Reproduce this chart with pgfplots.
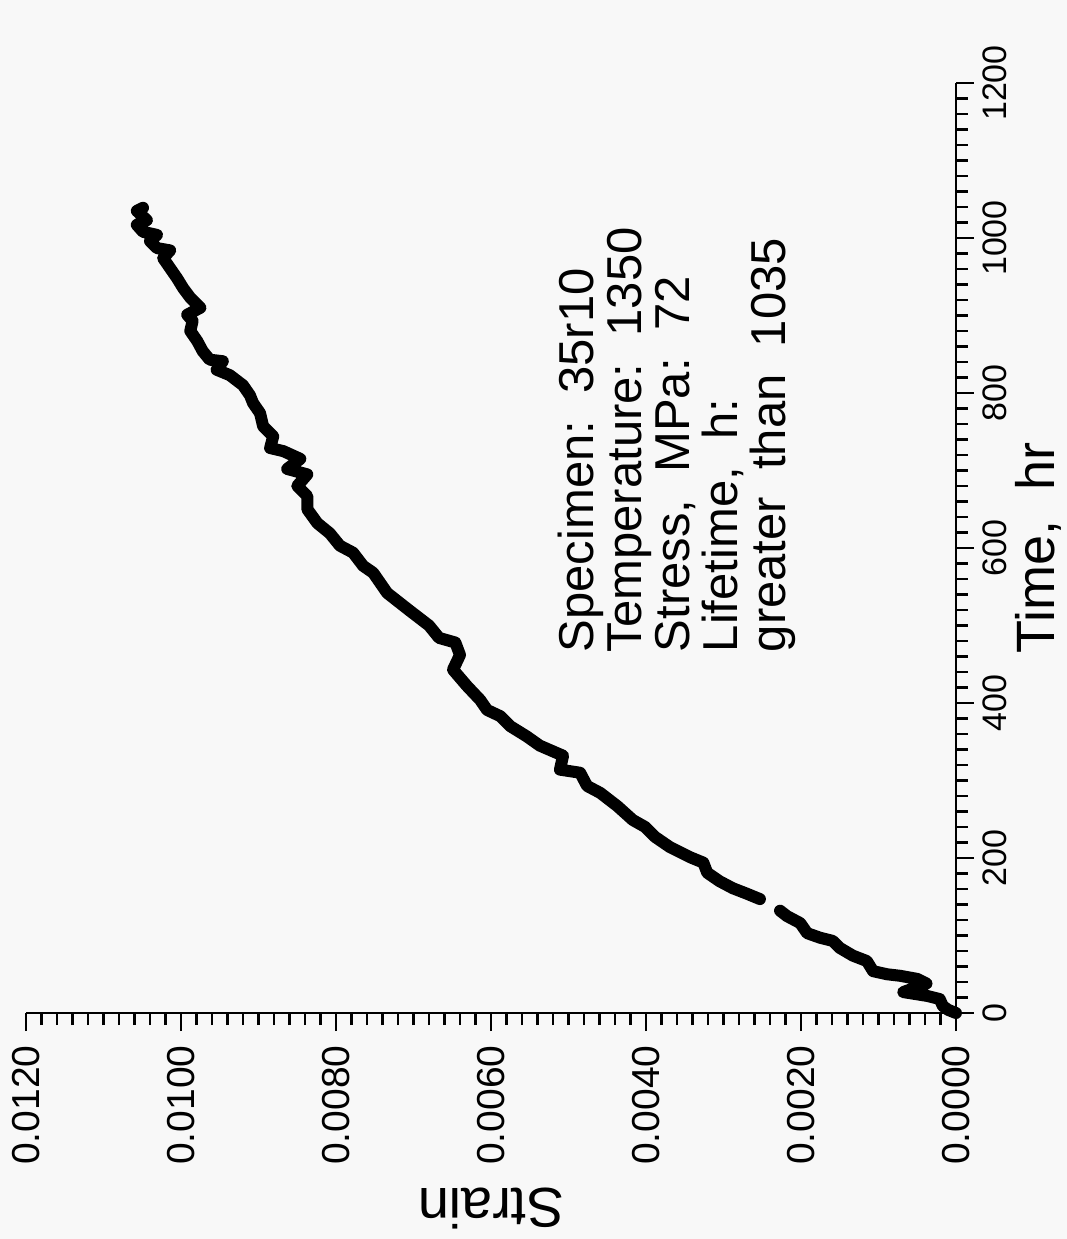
\documentclass[border=0pt]{standalone}
\usepackage{fontspec}
\setmainfont{Liberation Sans}
\usepackage{pgfplots}
\pgfplotsset{compat=1.18}
\definecolor{paper}{RGB}{248,248,248}

\begin{document}
\begin{tikzpicture}
\useasboundingbox[fill=paper] (-13pt,-113pt) rectangle (520.5pt,506.5pt);
\begin{axis}[
  at={(0,0)}, anchor=south west,
  scale only axis, width=465pt, height=465pt,
  xmin=0, xmax=0.012, ymin=0, ymax=1200,
  x dir=reverse,
  scaled x ticks=false, scaled y ticks=false,
  axis x line=bottom, axis y line=right,
  axis line style={-, line width=1.4pt},
  clip=false,
  tick align=outside,
  major tick length=9pt, minor tick length=6pt,
  every tick/.style={black, line width=1.3pt},
  xtick={0,0.002,0.004,0.006,0.008,0.010,0.012},
  xticklabels={0.0000,0.0020,0.0040,0.0060,0.0080,0.0100,0.0120},
  minor x tick num=9,
  ytick={0,200,400,600,800,1000,1200},
  yticklabels={0,200,400,600,800,1000,1200},
  minor y tick num=9,
  xticklabel style={rotate=90, anchor=east, inner sep=0pt, font=\fontsize{19.5}{19.5}\selectfont},
  yticklabel style={rotate=90, anchor=north, inner sep=0pt, font=\fontsize{17}{17}\selectfont},
  xticklabel shift=7pt,
  yticklabel shift=4pt,
  xlabel={Strain},
  ylabel={Time,\ \ hr},
  every axis x label/.style={at={(axis description cs:0.5,-0.21)}, anchor=center, rotate=180, font=\fontsize{28}{28}\selectfont},
  every axis y label/.style={at={(axis description cs:1.089,0.5)}, anchor=center, rotate=90, font=\fontsize{27}{27}\selectfont},
]
\addplot[black, line width=6pt, line join=round, line cap=round] coordinates {
(0.00000,0) (0.00010,4) (0.00017,9) (0.00021,18) (0.00037,22) (0.00068,27)
(0.00038,38) (0.00050,44) (0.00072,48) (0.00089,50) (0.00107,54) (0.00115,67)
(0.00133,74) (0.00150,84) (0.00159,93) (0.00175,97) (0.00192,103) (0.00201,116)
(0.00218,125) (0.00227,132)
};
\addplot[black, line width=6pt, line join=round, line cap=round] coordinates {
(0.00253,147) (0.00270,154) (0.00288,161) (0.00305,170) (0.00321,181) (0.00326,194)
(0.00343,201) (0.00369,214) (0.00388,227) (0.00401,240) (0.00417,249) (0.00437,267)
(0.00459,284) (0.00476,293) (0.00485,310) (0.00511,314) (0.00507,332) (0.00537,345)
(0.00554,357) (0.00575,370) (0.00588,383) (0.00605,391) (0.00614,404) (0.00631,422)
(0.00649,443) (0.00640,462) (0.00646,478) (0.00667,484) (0.00680,500) (0.00706,520)
(0.00734,542) (0.00752,568) (0.00765,577) (0.00778,594) (0.00795,603) (0.00808,619)
(0.00824,632) (0.00837,650) (0.00837,667) (0.00850,680) (0.00837,695) (0.00863,702)
(0.00846,715) (0.00868,725) (0.00885,729) (0.00881,744) (0.00894,757) (0.00898,774)
(0.00907,787) (0.00911,797) (0.00920,810) (0.00937,823) (0.00954,830) (0.00946,841)
(0.00963,843) (0.00972,854) (0.00979,867) (0.00988,880) (0.00985,893) (0.00992,901)
(0.00975,910) (0.00988,923) (0.00997,935) (0.01005,948) (0.01014,961) (0.01023,974)
(0.01014,984) (0.01031,987) (0.01040,996) (0.01031,1004) (0.01049,1008) (0.01057,1017)
(0.01044,1023) (0.01057,1035) (0.01049,1039)
};
\node[rotate=90, anchor=north west, inner sep=0pt, align=left,
      font=\fontsize{24.5}{24}\selectfont] at (axis cs:0.00514,465)
  {Specimen:\ \ 35r10\\Temperature:\ \ 1350\\Stress,\ \ MPa:\ \ 72\\Lifetime,\ \ h:\\greater\ \ than\ \ 1035};
\end{axis}
\end{tikzpicture}
\end{document}
